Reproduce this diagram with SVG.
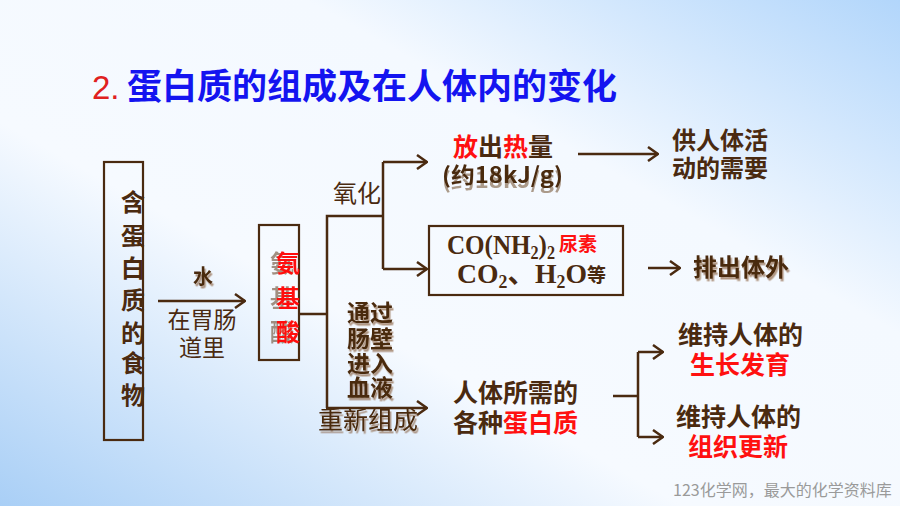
<svg xmlns="http://www.w3.org/2000/svg" width="900" height="506" viewBox="0 0 900 506">
<defs>
<linearGradient id="bg" x1="1" y1="0" x2="0" y2="1">
<stop offset="0" stop-color="#b2d6fb"/>
<stop offset="0.33" stop-color="#f4f9ff"/>
<stop offset="0.62" stop-color="#f6faff"/>
<stop offset="1" stop-color="#a9cff6"/>
</linearGradient>
<filter id="sh" x="-20%" y="-20%" width="140%" height="160%">
<feDropShadow dx="1.5" dy="2.5" stdDeviation="0.6" flood-color="#7a4a20" flood-opacity="0.55"/>
</filter>
<filter id="shl" x="-40%" y="-20%" width="160%" height="140%">
<feDropShadow dx="-6" dy="0" stdDeviation="0.3" flood-color="#6a4a2a" flood-opacity="0.6"/>
</filter>
<filter id="shd" x="-20%" y="-20%" width="140%" height="180%">
<feDropShadow dx="0" dy="5" stdDeviation="0.6" flood-color="#7a5a3a" flood-opacity="0.6"/>
</filter>
<marker id="ah" markerWidth="12" markerHeight="16" refX="11" refY="8" orient="auto" markerUnits="userSpaceOnUse">
<path d="M1,1 L11,8 L1,15" fill="none" stroke="#4a2a10" stroke-width="2.5"/>
</marker>
<style>
.cn{font-family:"Noto Sans CJK SC","Noto Sans",sans-serif;fill:#4a2a10}
.b{font-weight:bold}
.r{fill:#ff1010}
.ln{fill:none;stroke:#4a2a10;stroke-width:2.5}
.bx{fill:none;stroke:#4a2a10;stroke-width:2.2}
.tm{font-family:"Liberation Serif",serif;font-weight:bold;fill:#4a2a10}
</style>
</defs>
<rect width="900" height="506" fill="url(#bg)"/>

<g id="title">
<text x="92" y="99" font-family="Liberation Sans,sans-serif" font-size="33" fill="#e02020">2.</text>
<text x="127" y="99" class="b" font-family="Noto Sans CJK SC,sans-serif" font-size="35" fill="#1414f0">蛋白质的组成及在人体内的变化</text>
</g>

<g id="connectors">
<path class="ln" d="M158,301 H245" marker-end="url(#ah)"/>
<path class="ln" d="M300,314 H327 M327,408 V216 H383"/>
<path class="ln" d="M383,162 V269"/>
<path class="ln" d="M383,162 H427" marker-end="url(#ah)"/>
<path class="ln" d="M383,269 H427" marker-end="url(#ah)"/>
<path class="ln" d="M326,408 H427" marker-end="url(#ah)"/>
<path class="ln" d="M578,154 H658" marker-end="url(#ah)"/>
<path class="ln" d="M648,268 H680" marker-end="url(#ah)"/>
<path class="ln" d="M613,396 H638 M638,352 V437"/>
<path class="ln" d="M638,352 H663" marker-end="url(#ah)"/>
<path class="ln" d="M638,437 H663" marker-end="url(#ah)"/>
</g>

<g id="food">
<rect class="bx" x="104" y="162" width="39" height="278"/>
<text class="cn b" font-size="24" text-anchor="middle">
<tspan x="133" y="211">含</tspan><tspan x="133" y="245">蛋</tspan><tspan x="133" y="277">白</tspan><tspan x="133" y="309">质</tspan><tspan x="133" y="342">的</tspan><tspan x="133" y="372">食</tspan><tspan x="133" y="404">物</tspan>
</text>
</g>

<g id="digest-label">
<text class="cn b" x="203" y="284" font-size="20" text-anchor="middle" filter="url(#sh)">水</text>
<text class="cn" x="202" y="328" font-size="23" text-anchor="middle">在胃肠</text>
<text class="cn" x="202" y="356" font-size="23" text-anchor="middle">道里</text>
</g>

<g id="amino">
<rect class="bx" x="259" y="225" width="40" height="135"/>
<text class="cn b r" font-size="24" text-anchor="middle" filter="url(#shl)">
<tspan x="288" y="272">氨</tspan><tspan x="288" y="307">基</tspan><tspan x="288" y="341">酸</tspan>
</text>
</g>

<g id="oxidize-label">
<text class="cn" x="333" y="202" font-size="24">氧化</text>
</g>

<g id="heat">
<text class="cn b" x="453" y="156" font-size="25"><tspan class="r">放</tspan>出<tspan class="r">热</tspan>量</text>
<text class="cn b" x="442" y="183" font-size="22" textLength="121" lengthAdjust="spacingAndGlyphs" filter="url(#shd)">(约18kJ/g)</text>
</g>

<g id="activity">
<text class="cn b" x="672" y="149" font-size="24">供人体活</text>
<text class="cn b" x="672" y="177" font-size="24">动的需要</text>
</g>

<g id="waste">
<rect class="bx" x="429" y="226" width="194" height="69"/>
<text class="tm" x="447" y="254" font-size="28" textLength="108" lengthAdjust="spacingAndGlyphs">CO(NH<tspan font-size="18" dy="5">2</tspan><tspan dy="-5">)</tspan><tspan font-size="18" dy="5">2</tspan></text>
<text class="cn b r" x="559" y="251" font-size="19">尿素</text>
<text class="tm" x="457" y="283" font-size="28" textLength="130" lengthAdjust="spacingAndGlyphs">CO<tspan font-size="18" dy="5">2</tspan><tspan dy="-5" font-family="Noto Sans CJK SC,sans-serif">、</tspan>H<tspan font-size="18" dy="5">2</tspan><tspan dy="-5">O</tspan></text>
<text class="cn b" x="587" y="282" font-size="19">等</text>
</g>

<g id="excrete">
<text class="cn b" x="693" y="276" font-size="24" filter="url(#sh)">排出体外</text>
</g>

<g id="absorb-label">
<text class="cn b" font-size="23" filter="url(#sh)">
<tspan x="347" y="321">通过</tspan><tspan x="347" y="347">肠壁</tspan><tspan x="347" y="372">进入</tspan><tspan x="347" y="396">血液</tspan>
</text>
<text class="cn" x="318" y="429" font-size="25" filter="url(#sh)">重新组成</text>
</g>

<g id="protein">
<text class="cn b" x="453" y="402" font-size="25">人体所需的</text>
<text class="cn b" x="453" y="432" font-size="25">各种<tspan class="r">蛋白质</tspan></text>
</g>

<g id="growth">
<text class="cn b" x="678" y="344" font-size="25">维持人体的</text>
<text class="cn b r" x="690" y="374" font-size="25">生长发育</text>
</g>

<g id="renewal">
<text class="cn b" x="676" y="426" font-size="25">维持人体的</text>
<text class="cn b r" x="688" y="456" font-size="25">组织更新</text>
</g>

<text x="673" y="496" font-family="Noto Sans CJK SC,sans-serif" font-size="16" fill="#9a9a9a">123化学网，最大的化学资料库</text>
</svg>
